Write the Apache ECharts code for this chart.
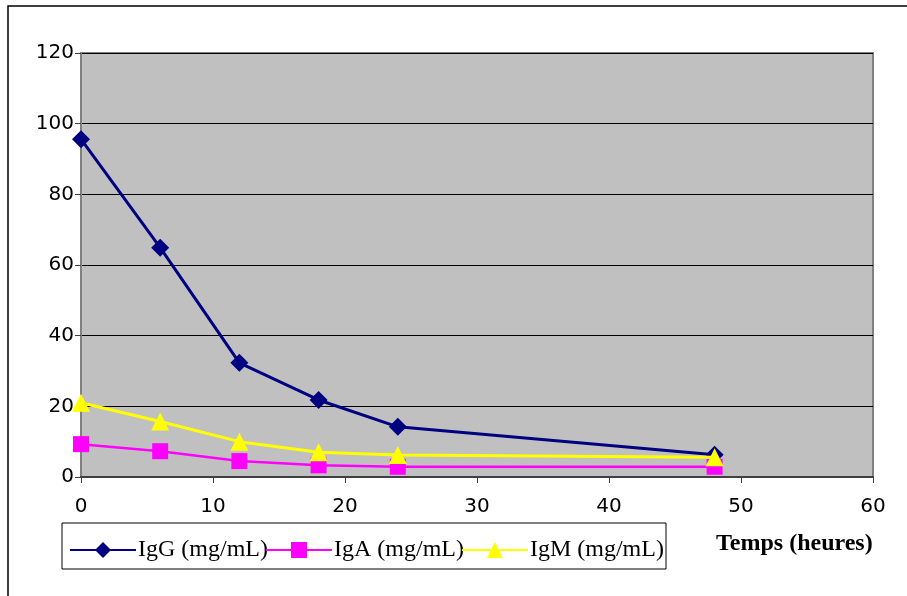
<!DOCTYPE html>
<html><head><meta charset="utf-8">
<script src="https://cdn.jsdelivr.net/npm/echarts@6/dist/echarts.min.js"></script>
<style>html,body{margin:0;padding:0;background:#fff}#c{width:907px;height:596px}</style>
</head><body><div id="c"></div>
<script>
const hours = [0, 6, 12, 18, 24, 48];
const igG = [95.6, 64.9, 32.3, 21.8, 14.2, 6.3];
const igA = [9.3, 7.3, 4.5, 3.3, 2.9, 2.9];
const igM = [21.0, 15.7, 10.0, 7.0, 6.2, 5.6];
const seriesNames = ['IgG (mg/mL)', 'IgA (mg/mL)', 'IgM (mg/mL)'];
const xTitle = 'Temps (heures)';

const pair = v => hours.map((h, i) => [h, v[i]]);
const chart = echarts.init(document.getElementById('c'));
chart.setOption({
  animation: false,
  backgroundColor: '#fff',
  grid: { left: 81, top: 53, right: 34, bottom: 119, show: true, backgroundColor: '#c0c0c0', borderColor: '#808080', borderWidth: 2 },
  xAxis: {
    type: 'value', min: 0, max: 60, interval: 10,
    axisLine: { show: true, lineStyle: { color: '#404040', width: 2 } },
    axisTick: { show: true, length: 6, lineStyle: { color: '#404040' } },
    axisLabel: { fontFamily: 'DejaVu Sans', fontSize: 20, color: '#000', margin: 20 },
    splitLine: { show: false }
  },
  yAxis: {
    type: 'value', min: 0, max: 120, interval: 20,
    axisLine: { show: true, lineStyle: { color: '#808080', width: 2 } },
    axisTick: { show: true, length: 6, lineStyle: { color: '#404040' } },
    axisLabel: { fontFamily: 'DejaVu Sans', fontSize: 20, color: '#000', margin: 7 },
    splitLine: { show: true, lineStyle: { color: '#000', width: 1 } }
  },
  legend: {
    left: 64, top: 533, itemWidth: 66, itemHeight: 20, itemGap: -3,
    textStyle: { fontFamily: 'Liberation Serif', fontSize: 24, color: '#000', padding: [0, 0, 0, -3] },
    data: seriesNames
  },
  graphic: [
    { type: 'rect', shape: { x: 8, y: 6, width: 1000, height: 1000 }, style: { fill: 'none', stroke: '#000', lineWidth: 1.5 }, z: -1 },
    { type: 'rect', shape: { x: 62, y: 523, width: 604, height: 46 }, style: { fill: 'none', stroke: '#000', lineWidth: 1 } },
    { type: 'text', left: 716, top: 532, style: { text: xTitle, font: 'bold 24px "Liberation Serif"', fill: '#000' } }
  ],
  series: [
    { name: seriesNames[0], type: 'line', data: pair(igG), symbol: 'diamond', symbolSize: 18, lineStyle: { color: '#000080', width: 3 }, itemStyle: { color: '#000080' }, z: 3 },
    { name: seriesNames[1], type: 'line', data: pair(igA), symbol: 'rect', symbolSize: 16, lineStyle: { color: '#ff00ff', width: 2.5 }, itemStyle: { color: '#ff00ff' }, z: 4 },
    { name: seriesNames[2], type: 'line', data: pair(igM), symbol: 'triangle', symbolSize: 18, lineStyle: { color: '#ffff00', width: 3 }, itemStyle: { color: '#ffff00' }, z: 5 }
  ]
});
</script></body></html>
